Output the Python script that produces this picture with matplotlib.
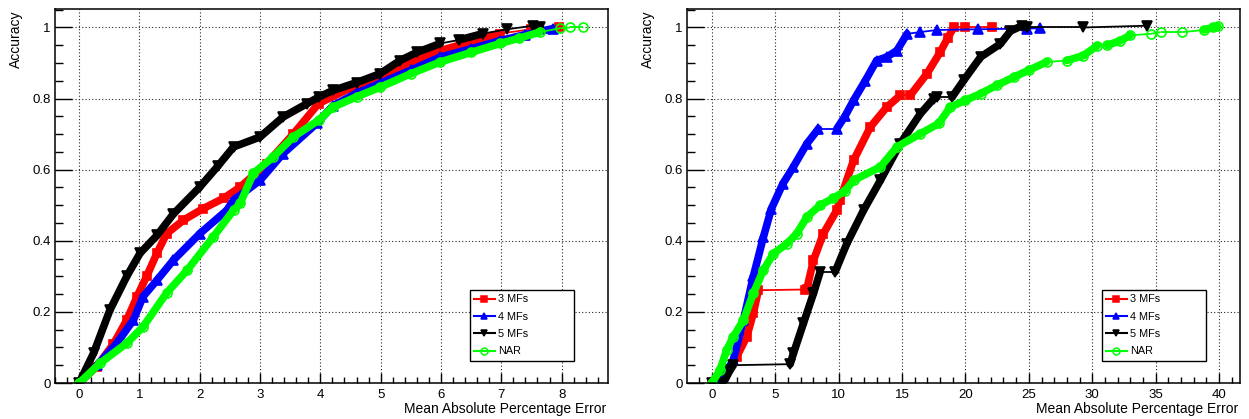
import matplotlib
matplotlib.use("Agg")
import matplotlib.pyplot as plt
import numpy as np
from matplotlib.collections import LineCollection
from matplotlib.lines import Line2D
from matplotlib.ticker import MultipleLocator, FuncFormatter

plt.rcParams["font.family"] = ["Liberation Sans", "DejaVu Sans"]

# ---- data (left panel) ----
left_3mf_x = [0, 0.29, 0.57, 0.79, 0.96, 1.12, 1.29, 1.45, 1.73, 2.05, 2.4, 2.67, 3.11, 3.55, 3.97, 4.5, 4.99, 5.5, 5.99, 6.5, 6.98, 7.5, 7.95]
left_3mf_y = [0, 0.046, 0.11, 0.177, 0.243, 0.30, 0.365, 0.42, 0.458, 0.49, 0.52, 0.551, 0.617, 0.70, 0.786, 0.83, 0.86, 0.90, 0.935, 0.96, 0.983, 0.995, 1.0]

left_4mf_x = [0, 0.3, 0.625, 0.9, 1.06, 1.29, 1.56, 2.0, 2.45, 2.56, 3.0, 3.38, 3.94, 4.21, 4.6, 4.99, 5.5, 5.99, 6.5, 6.98, 7.4, 7.86]
left_4mf_y = [0, 0.05, 0.112, 0.177, 0.243, 0.289, 0.345, 0.42, 0.486, 0.514, 0.57, 0.645, 0.73, 0.78, 0.815, 0.843, 0.88, 0.917, 0.94, 0.963, 0.98, 0.997]

left_5mf_x = [0, 0.24, 0.51, 0.79, 1.01, 1.29, 1.56, 2.0, 2.3, 2.56, 3.0, 3.38, 3.78, 3.97, 4.21, 4.6, 4.99, 5.32, 5.6, 5.99, 6.3, 6.7, 7.1, 7.53, 7.65]
left_5mf_y = [0, 0.084, 0.205, 0.30, 0.365, 0.415, 0.475, 0.551, 0.61, 0.664, 0.692, 0.748, 0.786, 0.804, 0.823, 0.845, 0.87, 0.907, 0.93, 0.955, 0.965, 0.983, 0.995, 1.005, 1.0]

left_nar_x = [0, 0.35, 0.79, 1.06, 1.45, 1.79, 2.22, 2.56, 2.67, 2.89, 3.22, 3.55, 3.97, 4.21, 4.6, 4.99, 5.5, 5.99, 6.5, 6.98, 7.3, 7.64, 7.98, 8.14, 8.36]
left_nar_y = [0, 0.056, 0.112, 0.158, 0.253, 0.317, 0.41, 0.486, 0.505, 0.59, 0.636, 0.692, 0.739, 0.776, 0.805, 0.832, 0.87, 0.903, 0.93, 0.955, 0.97, 0.987, 0.998, 1.0, 1.0]

# ---- data (right panel) ----
right_3mf_x = [0, 0.7, 1.97, 2.76, 3.28, 3.68, 7.36, 7.5, 8.02, 8.8, 9.86, 10.1, 11.18, 12.5, 13.8, 14.86, 15.65, 16.97, 18.0, 18.6, 19.07, 20.0, 22.1]
right_3mf_y = [0, 0, 0.074, 0.13, 0.196, 0.261, 0.263, 0.265, 0.345, 0.42, 0.486, 0.514, 0.626, 0.72, 0.776, 0.809, 0.809, 0.87, 0.93, 0.97, 1.0, 1.0, 1.0]

right_4mf_x = [0, 0.65, 1.7, 2.5, 3.28, 4.07, 4.7, 5.6, 6.44, 7.5, 8.41, 9.86, 10.5, 11.18, 12.1, 13.0, 13.8, 14.6, 15.4, 16.4, 17.76, 21.0, 24.86, 25.9]
right_4mf_y = [0, 0, 0.065, 0.177, 0.30, 0.41, 0.49, 0.56, 0.608, 0.673, 0.715, 0.715, 0.75, 0.795, 0.85, 0.907, 0.917, 0.935, 0.982, 0.987, 0.993, 0.995, 0.997, 0.998]

right_5mf_x = [0, 0.92, 1.44, 1.7, 6.18, 6.44, 7.23, 8.02, 8.55, 9.73, 10.65, 11.97, 13.3, 14.86, 16.44, 17.5, 17.76, 18.94, 19.86, 21.2, 22.76, 23.55, 24.47, 24.86, 29.3, 34.3]
right_5mf_y = [0, 0, 0.036, 0.05, 0.053, 0.083, 0.168, 0.252, 0.313, 0.313, 0.392, 0.486, 0.57, 0.673, 0.757, 0.80, 0.804, 0.804, 0.851, 0.917, 0.954, 0.99, 1.005, 1.0, 1.0, 1.005]

right_nar_x = [0, 0.65, 1.18, 1.7, 2.5, 3.28, 4.07, 4.86, 5.92, 6.7, 7.5, 8.55, 9.6, 10.5, 11.18, 13.3, 14.6, 16.44, 17.9, 18.8, 20.0, 21.2, 22.5, 23.8, 25.0, 26.4, 28.0, 29.3, 30.4, 31.2, 32.2, 33.0, 34.6, 35.4, 37.1, 38.8, 39.5, 39.9]
right_nar_y = [0, 0.036, 0.093, 0.13, 0.177, 0.252, 0.317, 0.364, 0.392, 0.42, 0.467, 0.50, 0.52, 0.54, 0.57, 0.608, 0.664, 0.701, 0.73, 0.776, 0.795, 0.814, 0.838, 0.86, 0.88, 0.903, 0.907, 0.921, 0.949, 0.95, 0.963, 0.978, 0.982, 0.987, 0.987, 0.993, 1.0, 1.003]

labels = ["3 MFs", "4 MFs", "5 MFs", "NAR"]

STYLES = [
	dict(color="#ff0000", marker="s", ms=5.5, mfc="#ff0000"),
	dict(color="#0000ff", marker="^", ms=6.5, mfc="#0000ff"),
	dict(color="#000000", marker="v", ms=6.5, mfc="#000000"),
	dict(color="#00ff00", marker="o", ms=6.5, mfc="none"),
]

W, H = 1249, 419


def draw_series(ax, xs, ys, style, w_px, h_px):
	xs = np.asarray(xs, dtype=float)
	ys = np.asarray(ys, dtype=float)
	x0, x1 = ax.get_xlim()
	y0, y1 = ax.get_ylim()
	dx = np.diff(xs) * w_px / (x1 - x0)
	dy = np.abs(np.diff(ys)) * h_px / (y1 - y0)
	# long flat stretches have few points: draw them thin, the rest as a dense band
	flat = (dx > 6) & (dy < 0.2 * dx)
	pts = np.column_stack([xs, ys])
	segs = np.stack([pts[:-1], pts[1:]], axis=1)
	ax.add_collection(LineCollection(segs[~flat], colors=style["color"], linewidths=5.5,
		capstyle="round", joinstyle="round"))
	ax.add_collection(LineCollection(segs[flat], colors=style["color"], linewidths=1.3))
	ax.plot(xs, ys, ls="none", marker=style["marker"], ms=style["ms"], color=style["color"],
		mfc=style["mfc"], mew=1.2)


def setup_axes(ax, xlim, major, minor):
	ax.set_xlim(*xlim)
	ax.set_ylim(0, 1.052)
	ax.xaxis.set_major_locator(MultipleLocator(major))
	ax.xaxis.set_minor_locator(MultipleLocator(minor))
	ax.yaxis.set_major_locator(MultipleLocator(0.2))
	ax.yaxis.set_minor_locator(MultipleLocator(0.05))
	ax.yaxis.set_major_formatter(FuncFormatter(lambda v, p: f"{v:g}"))
	ax.xaxis.set_major_formatter(FuncFormatter(lambda v, p: f"{v:g}"))
	ax.tick_params(axis="both", which="both", direction="in", top=False, right=False,
		labelsize=9.5, width=1)
	ax.tick_params(axis="y", which="major", length=12, pad=3)
	ax.tick_params(axis="y", which="minor", length=6)
	ax.tick_params(axis="x", which="major", length=7.5, pad=4)
	ax.tick_params(axis="x", which="minor", length=4)
	ax.grid(True, which="major", color="0.15", linestyle=(0, (1, 2)), linewidth=0.8)
	for s in ax.spines.values():
		s.set_linewidth(1.1)


fig = plt.figure(figsize=(W / 100, H / 100), dpi=100)

panels = [
	(55, 608, (-0.4, 8.77), 1, 0.2, 16,
		[(left_3mf_x, left_3mf_y), (left_4mf_x, left_4mf_y), (left_5mf_x, left_5mf_y), (left_nar_x, left_nar_y)]),
	(687, 1240, (-1.95, 41.65), 5, 1, 648,
		[(right_3mf_x, right_3mf_y), (right_4mf_x, right_4mf_y), (right_5mf_x, right_5mf_y), (right_nar_x, right_nar_y)]),
]

for left, right, xlim, major, minor, ylab_x, series in panels:
	top, bottom = 9, 383
	ax = fig.add_axes([left / W, 1 - bottom / H, (right - left) / W, (bottom - top) / H])
	setup_axes(ax, xlim, major, minor)
	for (xs, ys), st in zip(series, STYLES):
		draw_series(ax, xs, ys, st, right - left, bottom - top)
	handles = [Line2D([], [], color=st["color"], lw=1.5, marker=st["marker"], ms=st["ms"] - 1.5,
		mfc=st["mfc"], mew=1.1) for st in STYLES]
	box_bottom = (bottom - 361) / (bottom - top)
	box_h = (361 - 290) / (bottom - top)
	leg = ax.legend(handles, labels, loc="upper left",
		bbox_to_anchor=(0.75, box_bottom, 0.188, box_h),
		mode="expand", fontsize=7.8, frameon=True, fancybox=False, framealpha=1, edgecolor="black",
		handlelength=1.9, handletextpad=0.3, labelspacing=0.68, borderpad=0.4, borderaxespad=0,
		numpoints=1)
	leg.get_frame().set_linewidth(1.0)
	fig.text(ylab_x / W, 1 - 10 / H, "Accuracy", rotation=90, ha="center", va="top", fontsize=10)
	fig.text((right - 2) / W, 1 - 409 / H, "Mean Absolute Percentage Error", ha="right", va="center", fontsize=10)

fig.savefig("out.png", dpi=100)
